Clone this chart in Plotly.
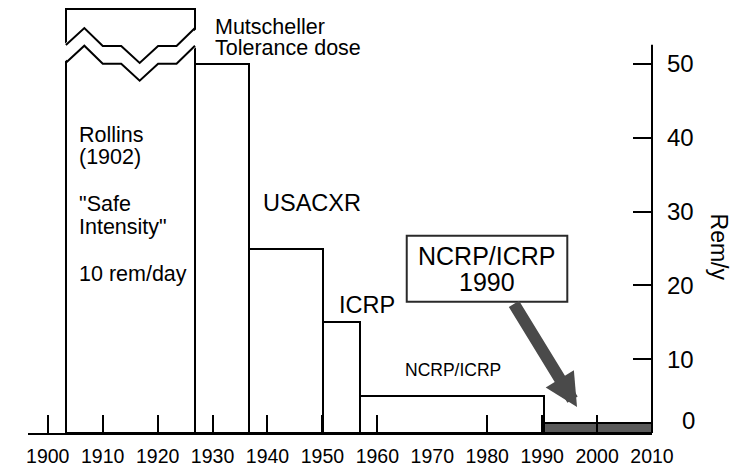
import plotly.graph_objects as go

# ---------------- data ----------------
period_names = ["Rollins (1902)", "Mutscheller", "USACXR", "ICRP", "NCRP/ICRP", "NCRP/ICRP 1990"]
period_start = [1903.3, 1926.8, 1936.7, 1950.1, 1956.8, 1990.4]
period_end = [1926.8, 1936.7, 1950.1, 1956.8, 1990.4, 2010.0]
# Rollins (10 rem/day) is off scale: drawn as a broken bar up to the top of the frame
dose_rem_per_year = [57.4, 50, 25, 15, 5, 1.3]

x_tick_years = [1900, 1910, 1920, 1930, 1940, 1950, 1960, 1970, 1980, 1990, 2000, 2010]
x_tick_marks = [1900, 1910, 1920, 1930, 1940, 1950, 1960, 1980, 1990, 2000]
y_tick_values = [10, 20, 30, 40, 50]

# ---------------- styling ----------------
FONT = "Liberation Sans, Arial, Helvetica, sans-serif"
X_RANGE = [1896.4, 2010]
Y_RANGE = [0, 58]
Y_AXIS_TOP = 52.6
bar_fill = ["white"] * 5 + ["#5a5a5a"]

centers = [(a + b) / 2 for a, b in zip(period_start, period_end)]
widths = [b - a for a, b in zip(period_start, period_end)]

fig = go.Figure()
fig.add_trace(go.Bar(
    x=centers, y=dose_rem_per_year, width=widths, base=0,
    marker=dict(color=bar_fill, line=dict(color="black", width=2)),
    hoverinfo="skip", showlegend=False,
))

# axis-break symbol on the Rollins bar (zig-zag, sevenths of the bar width)
b0, b1 = period_start[0], period_end[0]
frac = [i / 7 for i in range(8)]
zx = [b0 + f * (b1 - b0) for f in frac]
zig_upper = [52.58, 54.88, 52.44, 52.44, 50.14, 52.44, 52.44, 54.88]
BREAK_GAP = 2.4
zig_lower = [v - BREAK_GAP for v in zig_upper]
band_x = [zx[0] - 0.5] + zx[1:-1] + [zx[-1] + 0.5]
band_x = band_x + band_x[::-1]
band_y = zig_upper + zig_lower[::-1]
fig.add_trace(go.Scatter(x=band_x, y=band_y, fill="toself", fillcolor="white",
                         mode="lines", line=dict(width=0, color="white"),
                         hoverinfo="skip", showlegend=False))
for zy in (zig_upper, zig_lower):
    fig.add_trace(go.Scatter(x=zx, y=zy, mode="lines",
                             line=dict(color="black", width=2),
                             hoverinfo="skip", showlegend=False))

# invisible trace so that the tick-mark overlay axis is drawn
fig.add_trace(go.Scatter(x=[x_tick_years[0]], y=[0], xaxis="x2", mode="markers",
                         marker=dict(opacity=0), hoverinfo="skip", showlegend=False))

# right-hand y axis line (stops below the broken bar)
fig.add_shape(type="line", xref="paper", yref="y", x0=1, x1=1, y0=0, y1=Y_AXIS_TOP,
              line=dict(color="black", width=2))

# framed label "NCRP/ICRP 1990"
fig.add_shape(type="rect", xref="x", yref="y", x0=1965.35, x1=1994.58, y0=17.79, y1=26.74,
              line=dict(color="#2a2a2a", width=2), fillcolor="white", layer="above")

ann = []


def txt(x, y, s, size, xanchor="left", **kw):
    d = dict(x=x, y=y, xref="x", yref="y", text=s, showarrow=False,
             xanchor=xanchor, yanchor="middle",
             font=dict(family=FONT, size=size, color="black"))
    d.update(kw)
    ann.append(d)


txt(1930.1, 55.05, "Mutscheller", 21.5)
txt(1930.1, 52.2, "Tolerance dose", 21.5)
txt(1905.3, 40.39, "Rollins", 21.5)
txt(1905.3, 37.37, "(1902)", 21.5)
txt(1905.3, 31.04, "\"Safe", 21.5)
txt(1905.3, 27.88, "Intensity\"", 21.5)
txt(1905.3, 21.55, "10 rem/day", 21.5)
txt(1938.9, 31.14, "USACXR", 23.5)
txt(1952.7, 17.37, "ICRP", 23.5)
txt(1964.7, 8.48, "NCRP/ICRP", 17.5)
txt(1979.97, 23.99, "NCRP/ICRP", 25, xanchor="center")
txt(1979.97, 20.50, "1990", 25, xanchor="center")
txt(2010, 25.27, "Rem/y", 23, xanchor="center", xshift=67, textangle=90)
txt(2010, 0, "0", 24, xanchor="center", xshift=36, yshift=12.5)

# thick arrow from the frame to the 1990 level
ann.append(dict(x=1996.35, y=3.52, xref="x", yref="y", ax=1984.7, ay=17.7,
                axref="x", ayref="y", text="", showarrow=True,
                arrowhead=2, arrowsize=0.55, arrowwidth=12, arrowcolor="#4a4a4a",
                standoff=0, startstandoff=0))

fig.update_layout(
    width=740, height=466,
    margin=dict(l=28, r=88, t=5, b=33, autoexpand=False),
    paper_bgcolor="white", plot_bgcolor="white",
    bargap=0, showlegend=False,
    annotations=ann,
    xaxis=dict(range=X_RANGE, tickvals=x_tick_years, ticks="", tickangle=0,
               automargin=False,
               showline=True, linecolor="black", linewidth=2,
               showgrid=False, zeroline=False, ticklabelstandoff=5,
               tickfont=dict(family=FONT, size=19.5, color="black")),
    xaxis2=dict(range=X_RANGE, overlaying="x", anchor="y", side="bottom",
                automargin=False,
                tickvals=x_tick_marks, ticks="inside", ticklen=18, tickwidth=2,
                tickcolor="black", showticklabels=False, showline=False,
                showgrid=False, zeroline=False),
    yaxis=dict(range=Y_RANGE, side="right", tickvals=y_tick_values,
               automargin=False,
               ticks="inside", ticklen=19, tickwidth=2, tickcolor="black",
               showline=False, showgrid=False, zeroline=False,
               ticklabelstandoff=14,
               tickfont=dict(family=FONT, size=24, color="black")),
)

fig.write_html("out.html", config={"displayModeBar": False},
               post_script="document.body.style.margin='0';document.body.style.overflow='hidden';")
